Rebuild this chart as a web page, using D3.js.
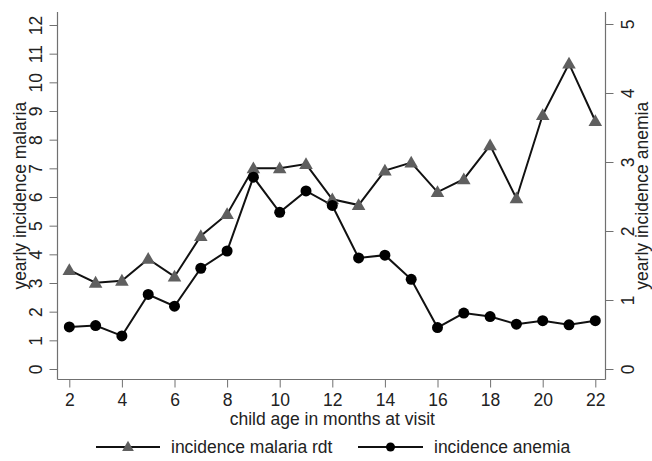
<!DOCTYPE html>
<html>
<head>
<meta charset="utf-8">
<script src="https://cdn.jsdelivr.net/npm/d3@7"></script>
<style>
  body { margin: 0; background: #fff; }
  text { font-family: "Liberation Sans", Arial, sans-serif; fill: #222; }
</style>
</head>
<body>
<div id="chart"></div>
<script>
// values
const months = [2, 3, 4, 5, 6, 7, 8, 9, 10, 11, 12, 13, 14, 15, 16, 17, 18, 19, 20, 21, 22];
const malaria = [3.45, 3.01, 3.08, 3.84, 3.22, 4.64, 5.4, 7.0, 7.0, 7.15, 5.92, 5.72, 6.92, 7.2, 6.17, 6.62, 7.8, 5.95, 8.86, 10.65, 8.65];
const anemia = [0.61, 0.63, 0.48, 1.08, 0.91, 1.46, 1.71, 2.78, 2.27, 2.58, 2.37, 1.61, 1.65, 1.30, 0.60, 0.81, 0.76, 0.65, 0.70, 0.64, 0.70];
const xTicks = [2, 4, 6, 8, 10, 12, 14, 16, 18, 20, 22];
const leftTicks = [0, 1, 2, 3, 4, 5, 6, 7, 8, 9, 10, 11, 12];
const rightTicks = [0, 1, 2, 3, 4, 5];
const seriesNames = ["incidence malaria rdt", "incidence anemia"];

const width = 652, height = 461;
const frame = { left: 57.5, right: 605.5, top: 12, bottom: 379.5 };
const axisColor = "#707070";
const markerGray = "#5f5f5f";
const fontSize = 17.5;
const fmt = d3.format("d");

const svg = d3.select("#chart").append("svg")
    .attr("width", width)
    .attr("height", height);

const x = d3.scaleLinear().domain([2, 22]).range([69.3, 595.3]);
const yLeft = d3.scaleLinear().domain([0, 12]).range([369, 25]);
const yRight = d3.scaleLinear().domain([0, 5]).range([369, 24]);

//Styles the tick labels of an axis group; rotated ones read bottom to top like the picture
function styleTicks(g, rotated, offset) {
    g.select(".domain").remove();
    g.selectAll(".tick line").attr("stroke", axisColor);
    let t = g.selectAll(".tick text")
        .attr("dy", 0)
        .style("font-size", fontSize + "px")
        .style("font-family", "Liberation Sans, Arial, sans-serif")
        .attr("fill", "#222");
    if (rotated) {
        t.attr("transform", "rotate(-90)")
            .attr("x", 0)
            .attr("y", offset)
            .attr("text-anchor", "middle");
    } else {
        t.attr("y", offset);
    }
}

// left axis
svg.append("g")
    .attr("transform", "translate(" + frame.left + ",0)")
    .call(d3.axisLeft(yLeft).tickValues(leftTicks).tickFormat(fmt).tickSize(8).tickSizeOuter(0))
    .call(g => styleTicks(g, true, -16));

// right axis
svg.append("g")
    .attr("transform", "translate(" + frame.right + ",0)")
    .call(d3.axisRight(yRight).tickValues(rightTicks).tickFormat(fmt).tickSize(8).tickSizeOuter(0))
    .call(g => styleTicks(g, true, 28.5));

// bottom axis
svg.append("g")
    .attr("transform", "translate(0," + frame.bottom + ")")
    .call(d3.axisBottom(x).tickValues(xTicks).tickFormat(fmt).tickSize(8).tickSizeOuter(0))
    .call(g => styleTicks(g, false, 26.5));

// frame lines (left, right, bottom)
const frameLines = [
    [frame.left, frame.top, frame.left, frame.bottom],
    [frame.right, frame.top, frame.right, frame.bottom],
    [frame.left, frame.bottom, frame.right, frame.bottom]
];
svg.selectAll("line.frame")
    .data(frameLines)
    .enter()
    .append("line")
    .attr("class", "frame")
    .attr("x1", d => d[0]).attr("y1", d => d[1])
    .attr("x2", d => d[2]).attr("y2", d => d[3])
    .attr("stroke", axisColor)
    .attr("stroke-width", 1.2);

// axis titles
const midY = (frame.top + frame.bottom) / 2;
svg.append("text")
    .attr("transform", "translate(26," + midY + ") rotate(-90)")
    .attr("text-anchor", "middle")
    .style("font-size", fontSize + "px")
    .text("yearly incidence malaria");
svg.append("text")
    .attr("transform", "translate(647.5," + midY + ") rotate(-90)")
    .attr("text-anchor", "middle")
    .style("font-size", fontSize + "px")
    .text("yearly incidence anemia");
svg.append("text")
    .attr("x", (x(2) + x(22)) / 2)
    .attr("y", 425)
    .attr("text-anchor", "middle")
    .style("font-size", fontSize + "px")
    .text("child age in months at visit");

// series
const malariaPts = months.map((m, i) => [x(m), yLeft(malaria[i])]);
const anemiaPts = months.map((m, i) => [x(m), yRight(anemia[i])]);
const line = d3.line();
const triangle = d3.symbol().type(d3.symbolTriangle).size(80);

svg.append("path")
    .attr("d", line(malariaPts))
    .attr("fill", "none")
    .attr("stroke", "#111")
    .attr("stroke-width", 2);
svg.append("path")
    .attr("d", line(anemiaPts))
    .attr("fill", "none")
    .attr("stroke", "#111")
    .attr("stroke-width", 2);

svg.selectAll("path.tri")
    .data(malariaPts)
    .enter()
    .append("path")
    .attr("class", "tri")
    .attr("d", triangle)
    .attr("transform", d => "translate(" + d[0] + "," + (d[1] + 1) + ")")
    .attr("fill", markerGray);

svg.selectAll("circle.dot")
    .data(anemiaPts)
    .enter()
    .append("circle")
    .attr("class", "dot")
    .attr("cx", d => d[0])
    .attr("cy", d => d[1])
    .attr("r", 5.5)
    .attr("fill", "#000");

// legend
const legendY = 447;
const legendItems = [
    { name: seriesNames[0], x1: 96, x2: 160, textX: 171, marker: "tri" },
    { name: seriesNames[1], x1: 358, x2: 423, textX: 434, marker: "dot" }
];
const lg = svg.selectAll("g.legend")
    .data(legendItems)
    .enter()
    .append("g")
    .attr("class", "legend");
lg.append("line")
    .attr("x1", d => d.x1).attr("x2", d => d.x2)
    .attr("y1", legendY).attr("y2", legendY)
    .attr("stroke", "#111")
    .attr("stroke-width", 2);
lg.filter(d => d.marker === "tri").append("path")
    .attr("d", d3.symbol().type(d3.symbolTriangle).size(60))
    .attr("transform", d => "translate(" + (d.x1 + d.x2) / 2 + "," + (legendY + 0.5) + ")")
    .attr("fill", markerGray);
lg.filter(d => d.marker === "dot").append("circle")
    .attr("cx", d => (d.x1 + d.x2) / 2)
    .attr("cy", legendY)
    .attr("r", 4.5)
    .attr("fill", "#000");
lg.append("text")
    .attr("x", d => d.textX)
    .attr("y", legendY + 6)
    .style("font-size", fontSize + "px")
    .text(d => d.name);
</script>
</body>
</html>
